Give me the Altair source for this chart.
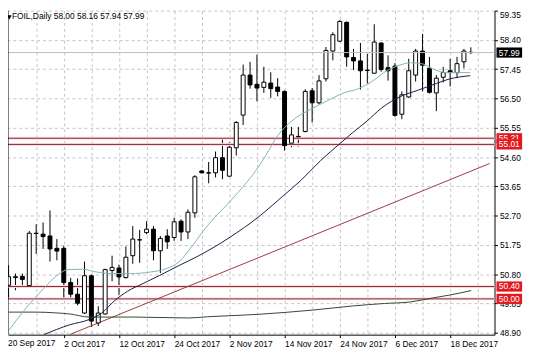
import altair as alt
import pandas as pd

FONT = "Liberation Sans"
FS = 8.5

# ---------------- data ----------------
bar_index = list(range(68))
opens = [50.44, 50.69, 50.73, 50.43, 52.13, 52.10, 52.04, 51.64, 51.64, 50.53,
         50.15, 49.54, 50.75, 49.22, 49.51, 50.92, 51.00, 50.69, 51.40, 51.92,
         52.15, 52.26, 51.56, 52.04, 51.99, 52.52, 52.17, 52.79, 54.15, 54.09,
         54.09, 54.58, 53.98, 54.90, 55.96, 57.26, 56.96, 56.86, 57.00, 56.87,
         56.73, 55.05, 55.27, 55.43, 56.75, 56.36, 57.14, 58.04, 58.36, 58.97,
         57.83, 57.72, 57.42, 57.32, 58.30, 57.50, 57.55, 55.99, 56.55, 57.26,
         58.04, 57.48, 56.68, 57.19, 57.40, 57.34, 57.69, 58.00]
highs = [51.09, 50.82, 50.82, 52.20, 52.42, 52.48, 52.87, 51.94, 51.72, 50.68,
         50.66, 51.21, 50.79, 49.76, 50.98, 51.40, 51.11, 51.70, 52.36, 52.24,
         52.52, 52.36, 52.04, 52.26, 52.63, 52.58, 52.90, 54.01, 54.17, 54.44,
         54.78, 55.24, 55.08, 55.77, 57.60, 57.69, 57.92, 57.53, 57.35, 57.16,
         56.76, 55.58, 55.58, 56.80, 56.84, 57.26, 58.17, 58.65, 59.04, 59.00,
         58.11, 58.30, 57.95, 58.91, 58.31, 57.90, 57.65, 56.73, 57.79, 58.11,
         58.59, 57.85, 57.26, 57.53, 57.79, 57.85, 58.11, 58.16]
lows = [50.02, 50.28, 50.40, 50.40, 51.46, 51.62, 51.21, 51.25, 50.04, 50.04,
        49.79, 49.51, 49.09, 49.12, 49.49, 50.57, 50.13, 50.66, 51.14, 51.17,
        52.10, 51.25, 50.84, 51.62, 51.88, 51.88, 51.94, 52.63, 54.07, 53.75,
        53.94, 53.88, 53.96, 54.65, 55.64, 56.82, 56.41, 56.68, 56.52, 56.57,
        54.81, 54.92, 54.94, 55.40, 55.72, 56.31, 57.05, 57.74, 58.33, 57.53,
        57.42, 56.79, 56.99, 57.30, 57.37, 57.08, 55.91, 55.83, 56.52, 57.05,
        56.73, 56.66, 56.09, 57.02, 56.89, 57.16, 57.48, 57.94]
closes = [50.72, 50.72, 50.63, 52.13, 52.12, 52.02, 51.62, 51.55, 50.53, 50.15,
          49.86, 50.75, 49.28, 49.54, 50.95, 51.02, 50.71, 51.35, 51.94, 51.91,
          52.26, 51.56, 51.96, 51.85, 52.50, 52.17, 52.81, 53.96, 54.09, 54.08,
          54.58, 54.17, 54.92, 55.72, 57.26, 56.94, 56.84, 57.03, 56.82, 56.73,
          54.97, 55.32, 55.26, 56.73, 56.36, 57.07, 58.06, 58.57, 59.00, 57.85,
          57.72, 57.40, 57.41, 58.33, 57.44, 57.40, 55.95, 56.62, 57.40, 58.04,
          57.58, 56.70, 57.16, 57.34, 57.34, 57.63, 58.04, 57.99]

date_labels = ["20 Sep 2017", "2 Oct 2017", "12 Oct 2017", "24 Oct 2017", "2 Nov 2017",
               "14 Nov 2017", "24 Nov 2017", "6 Dec 2017", "18 Dec 2017"]
date_label_bars = [0, 8, 16, 24, 32, 40, 48, 56, 64]
grid_bars = [4, 8, 12, 16, 20, 24, 28, 32, 36, 40, 44, 48, 52, 56, 60, 64, 68]
price_ticks = [48.90, 49.85, 50.80, 51.75, 52.70, 53.65, 54.60, 55.55, 56.50, 57.45, 58.40, 59.35]

ma_fast_bar = [0, 2.31, 5.10, 7.20, 8.60, 10.70, 12.80, 14.90, 17.69, 20.49, 22.87, 24.69,
               26.50, 28.18, 29.86, 31.68, 34.06, 35.87, 37.27, 39.09, 41.05, 43.85, 46.08,
               48.46, 50.84, 52.66, 55.03, 56.43, 58.25, 60.07, 61.47, 63.43, 65.24, 66.92]
ma_fast_val = [48.97, 49.64, 50.34, 50.79, 50.95, 50.96, 50.87, 50.82, 50.82, 50.87, 50.98, 51.20,
               51.68, 52.19, 52.64, 53.06, 53.66, 54.17, 54.65, 55.32, 55.77, 56.16, 56.41,
               56.67, 56.83, 57.05, 57.43, 57.56, 57.66, 57.62, 57.46, 57.34, 57.34, 57.34]

ma_mid_bar = [5.10, 8.88, 11.68, 13.50, 15.31, 17.27, 19.51, 21.89, 24.69, 27.48, 32.10, 36.29,
              39.79, 42.45, 45.24, 48.04, 49.86, 51.96, 54.06, 56.85, 59.23, 62.03, 63.85, 66.92]
ma_mid_val = [48.84, 49.16, 49.33, 49.54, 49.93, 50.25, 50.50, 50.76, 51.08, 51.39, 52.00, 52.67,
              53.34, 53.86, 54.49, 55.04, 55.39, 55.77, 56.19, 56.57, 56.76, 56.99, 57.13, 57.24]

ma_slow_bar = [0, 4.13, 6.50, 8.88, 11.68, 18.11, 26.08, 28.88, 31.68, 36.29, 40.07, 44.27,
               49.86, 54.48, 58.25, 61.47, 63.85, 67.06]
ma_slow_val = [49.57, 49.57, 49.55, 49.51, 49.41, 49.41, 49.38, 49.42, 49.45, 49.50, 49.56, 49.64,
               49.77, 49.85, 49.90, 50.03, 50.12, 50.27]

trend_bar = [8.84, 69.72]
trend_val = [48.84, 54.39]

level_values = [55.21, 55.01, 50.40, 50.00]
bid_price = 57.99
title_text = "FOIL,Daily  58.00 58.16 57.94 57.99"

# ---------------- layout ----------------
W, H = 494, 329
x_dom = [0.629, 69.72]
y_dom = [48.839, 59.35]
xs = alt.Scale(domain=x_dom, nice=False, zero=False)
ys = alt.Scale(domain=y_dom, nice=False, zero=False)

label_expr = " : ".join(f"datum.value == {b} ? '{l}'" for b, l in zip(date_label_bars, date_labels)) + " : ''"

x_axis = alt.Axis(values=grid_bars, labelExpr=label_expr, grid=True, gridDash=[3, 3],
                  gridColor="#c4c4c4", domainColor="black", tickColor="black", tickSize=3,
                  tickOpacity={"condition": {"test": "datum.value % 8 == 0", "value": 1}, "value": 0},
                  labelAlign="left", labelPadding=2, labelFont=FONT, labelFontSize=FS,
                  labelColor="black", title=None, labelOverlap=False)
y_axis = alt.Axis(orient="right", values=price_ticks, format=".2f", grid=True, gridDash=[3, 3],
                  gridColor="#c4c4c4", domainColor="black", tickColor="black", tickSize=3,
                  labelPadding=2, labelFont=FONT, labelFontSize=FS, labelColor="black",
                  title=None, labelFlush=True, labelOverlap=False)

def X(field):
    return alt.X(field, scale=xs, axis=x_axis, title=None)

def Y(field):
    return alt.Y(field, scale=ys, axis=y_axis, title=None)

candles = pd.DataFrame({"i": bar_index, "open": opens, "high": highs, "low": lows, "close": closes})

wicks = alt.Chart(candles).mark_rule(color="black", strokeWidth=1, clip=True).encode(
    x=X("i:Q"), y=Y("low:Q"), y2="high:Q")

bodies = alt.Chart(candles).mark_bar(size=4, stroke="black", strokeWidth=1, clip=True).encode(
    x=X("i:Q"), y=Y("open:Q"), y2="close:Q",
    fill=alt.condition("datum.close >= datum.open", alt.value("white"), alt.value("black")),
)

levels_df = pd.DataFrame({"p": level_values})
level_band = alt.Chart(levels_df).mark_rule(color="#f9dde1", strokeWidth=3).encode(y=Y("p:Q"))
level_line = alt.Chart(levels_df).mark_rule(color="#8e2433", strokeWidth=1).encode(y=Y("p:Q"))

trend_df = pd.DataFrame({"i": trend_bar, "p": trend_val})
trend_line = alt.Chart(trend_df).mark_line(color="#9a3a44", strokeWidth=1, clip=True).encode(
    x=X("i:Q"), y=Y("p:Q"))

def ma_layer(bars, vals, color):
    df = pd.DataFrame({"i": bars, "p": vals})
    return alt.Chart(df).mark_line(color=color, strokeWidth=1, clip=True,
                                   interpolate="monotone").encode(x=X("i:Q"), y=Y("p:Q"))

ma_fast = ma_layer(ma_fast_bar, ma_fast_val, "#82b5b2")
ma_mid = ma_layer(ma_mid_bar, ma_mid_val, "#1c1c44")
ma_slow = ma_layer(ma_slow_bar, ma_slow_val, "#2f4a30")

bid_df = pd.DataFrame({"p": [bid_price]})
bid_line = alt.Chart(bid_df).mark_rule(color="#bdbdbd", strokeWidth=1).encode(y=Y("p:Q"))

def price_box(value, color):
    df = pd.DataFrame({"p": [value], "lab": [f"{value:.2f}"]})
    rect = alt.Chart(df).transform_calculate(
        lo="datum.p - 0.165", hi="datum.p + 0.165"
    ).mark_rect(color=color).encode(
        x=alt.value(W + 2), x2=alt.value(W + 28), y=Y("lo:Q"), y2="hi:Q")
    txt = alt.Chart(df).mark_text(color="white", font=FONT, fontSize=FS, align="center",
                                  baseline="middle").encode(
        x=alt.value(W + 15), y=Y("p:Q"), text="lab:N")
    return rect + txt

boxes = price_box(bid_price, "black")
for v in level_values:
    boxes = boxes + price_box(v, "#e2191f")

first_label = alt.Chart(pd.DataFrame({"t": [date_labels[0]]})).mark_text(
    align="left", baseline="top", font=FONT, fontSize=FS, color="black").encode(
    x=alt.value(0), y=alt.value(H + 5), text="t:N")

title_df = pd.DataFrame({"t": [title_text], "m": ["\u25bc"]})
title_mark = alt.Chart(title_df).mark_text(
    align="left", baseline="top", font=FONT, fontSize=FS, color="black").encode(
    x=alt.value(4), y=alt.value(1), text="t:N")
tri_mark = alt.Chart(title_df).mark_text(
    align="left", baseline="top", font="DejaVu Sans", fontSize=6, color="black").encode(
    x=alt.value(-1), y=alt.value(3), text="m:N")

left_border = alt.Chart(pd.DataFrame({"a": [0]})).mark_rule(color="black").encode(
    x=alt.value(0), y=alt.value(0), y2=alt.value(H))

chart = alt.layer(
    wicks, level_band, level_line, trend_line, bodies,
    ma_slow, ma_mid, ma_fast, bid_line, boxes, first_label, title_mark, tri_mark, left_border
).properties(
    width=W, height=H,
    autosize=alt.AutoSizeParams(type="none"),
    padding={"left": 0, "top": 0, "right": 34, "bottom": 20},
    background="white",
).configure_view(stroke=None)

chart.save("out.html", embed_options={"renderer": "svg", "actions": False})
